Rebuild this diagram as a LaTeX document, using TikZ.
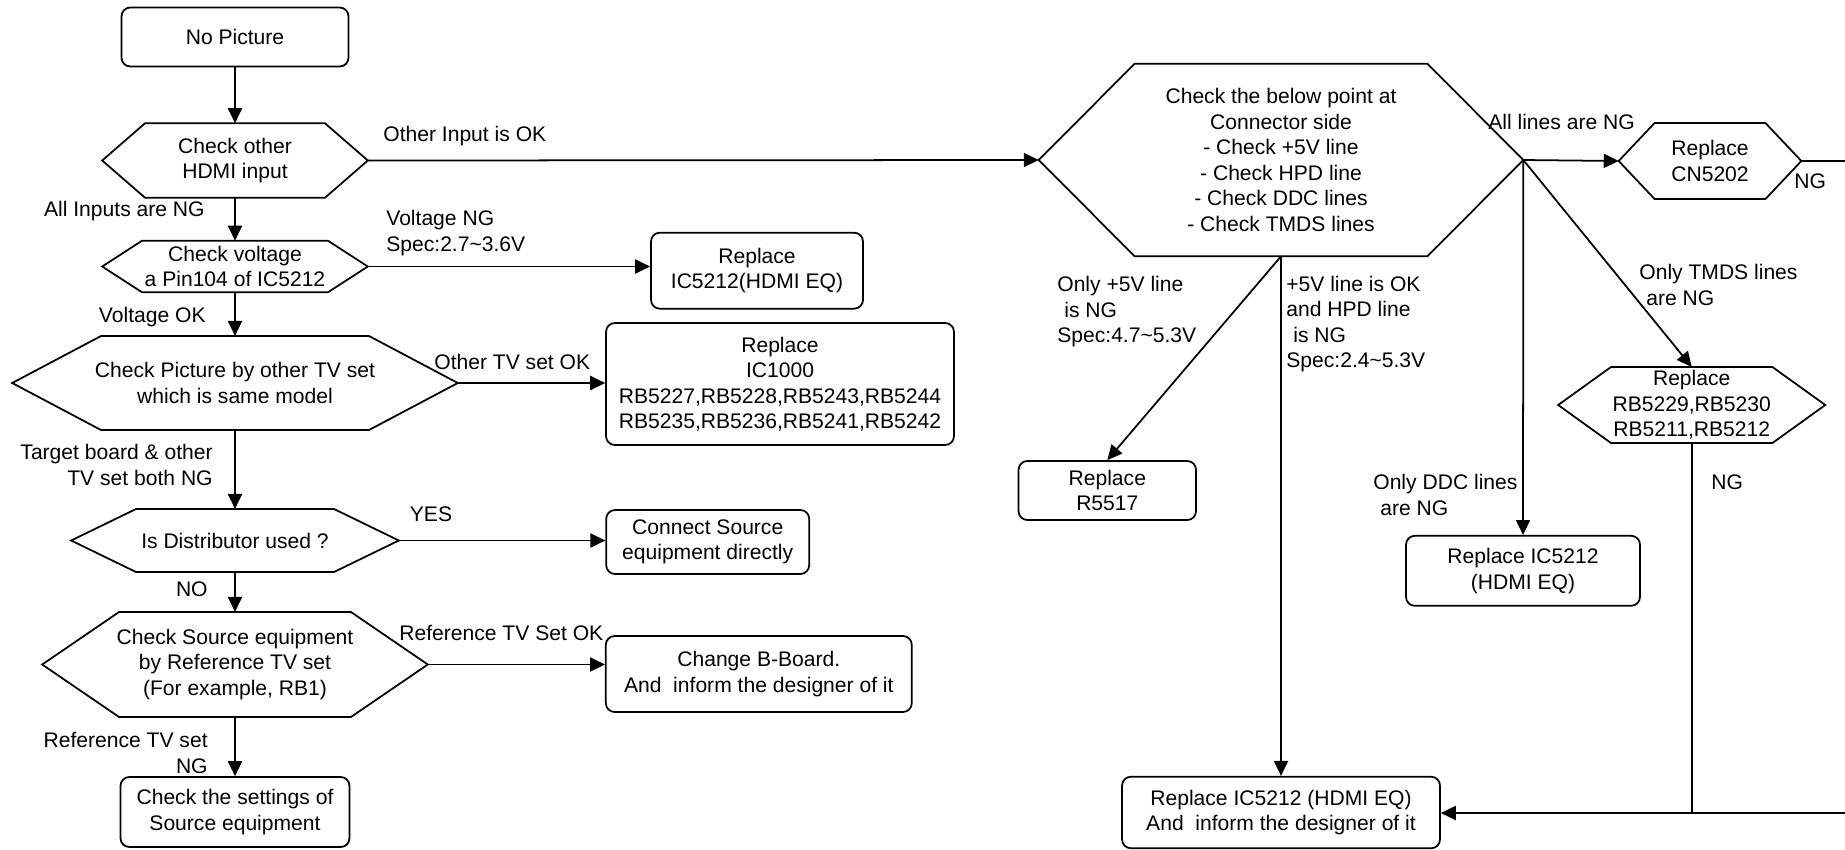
\documentclass[tikz,border=0pt]{standalone}
\usepackage{fontspec}
\setmainfont{Liberation Sans}
\usetikzlibrary{arrows.meta,calc,positioning}
\tikzset{
  box/.style={draw,line width=1pt,rounded corners=5pt,align=center,inner sep=0pt},
  hexa/.style={align=center,inner sep=0pt},
  lbl/.style={inner sep=0pt},
  edg/.style={line width=1pt},
  arr/.style={-{Triangle[length=8.5pt,width=8pt]},line width=1pt},
}
\newcommand{\hexframe}[2]{%
  \draw[edg] (#1.west) -- ([xshift=#2]#1.north west) -- ([xshift=-#2]#1.north east)
    -- (#1.east) -- ([xshift=-#2]#1.south east) -- ([xshift=#2]#1.south west) -- cycle;}

\begin{document}
\begin{tikzpicture}[x=0.02cm,y=-0.02cm,font=\fontsize{12pt}{14.5pt}\selectfont]
  \useasboundingbox (0,0) rectangle (1845,849);
  % left column
  \node[box,minimum width=4.54cm,minimum height=1.18cm] (start) at (235,37) {No Picture};
  \node[hexa,minimum width=5.3cm,minimum height=1.48cm] (hdmi) at (235,160.5) {Check other\\HDMI input};
  \node[hexa,minimum width=5.3cm,minimum height=1.02cm] (volt) at (235,266.5) {Check voltage\\a Pin104 of IC5212};
  \node[hexa,minimum width=8.9cm,minimum height=1.87cm] (other) at (235,383) {Check Picture by other TV set\\which is same model};
  \node[hexa,minimum width=6.54cm,minimum height=1.25cm] (distr) at (235,540.5) {Is Distributor used ?};
  \node[hexa,minimum width=7.7cm,minimum height=2.09cm] (source) at (235,664.5) {Check Source equipment\\by Reference TV set\\(For example, RB1)};
  \node[box,minimum width=4.58cm,minimum height=1.4cm] (settings) at (235,812) {Check the settings of\\Source equipment};
  \hexframe{hdmi}{0.86cm}
  \hexframe{volt}{0.8cm}
  \hexframe{other}{1.78cm}
  \hexframe{distr}{1.3cm}
  \hexframe{source}{1.54cm}
  % what to replace
  \node[box,minimum width=4.24cm,minimum height=1.52cm] (eq) at (757,270.7) {Replace\\IC5212(HDMI EQ)};
  \node[box,minimum width=6.96cm,minimum height=2.44cm] (ic1000) at (780,384) {Replace\\IC1000\\RB5227,RB5228,RB5243,RB5244\\RB5235,RB5236,RB5241,RB5242};
  \node[box,minimum width=4.06cm,minimum height=1.28cm] (direct) at (707.7,542) {Connect Source\\equipment directly};
  \node[box,minimum width=6.12cm,minimum height=1.52cm] (bboard) at (758.8,674) {Change B-Board.\\And\ \ inform the designer of it};
  % connector side
  \node[hexa,minimum width=9.68cm,minimum height=3.84cm] (conn) at (1281,160) {Check the below point at\\Connector side\\- Check +5V line\\- Check HPD line\\- Check DDC lines\\- Check TMDS lines};
  \node[hexa,minimum width=3.64cm,minimum height=1.51cm] (cn) at (1710,161) {Replace\\CN5202};
  \node[hexa,minimum width=5.33cm,minimum height=1.51cm] (rb) at (1691.7,405) {Replace\\RB5229,RB5230\\RB5211,RB5212};
  \node[box,minimum width=3.55cm,minimum height=1.18cm] (r5517) at (1107.3,490.5) {Replace\\R5517};
  \node[box,minimum width=4.68cm,minimum height=1.4cm] (eq2) at (1523,570.8) {Replace IC5212\\(HDMI EQ)};
  \node[box,minimum width=6.36cm,minimum height=1.43cm] (inform) at (1281,812.5) {Replace IC5212 (HDMI EQ)\\And\ \ inform the designer of it};
  \hexframe{conn}{1.92cm}
  \hexframe{cn}{0.72cm}
  \hexframe{rb}{1.06cm}
  \coordinate (cnout) at (1845,161);
  \coordinate (back) at (1845,813);
  % connectors
  \draw[arr] (start) -- (hdmi);
  \draw[arr] (hdmi.east) -- (conn.west);
  \draw[arr] (hdmi) -- (volt);
  \draw[arr] (volt.east) -- (volt.east -| eq.west);
  \draw[arr] (volt) -- (other);
  \draw[arr] (other.east) -- (other.east -| ic1000.west);
  \draw[arr] (other) -- (distr);
  \draw[arr] (distr.east) -- (distr.east -| direct.west);
  \draw[arr] (distr) -- (source);
  \draw[arr] (source.east) -- (source.east -| bboard.west);
  \draw[arr] (source) -- (settings);
  \draw[arr] (conn.east) -- (cn.west);
  \draw[edg] (cn.east) -- (cnout);
  \draw[arr] (conn.east) -- (rb.north);
  \draw[arr] (conn.east) -- (eq2.north);
  \draw[arr] (conn.south) -- (r5517.north);
  \draw[arr] (conn.south) -- (inform.north);
  \draw[edg] (rb.south) -- (rb.south |- back);
  \draw[arr] (back) -- (back -| inform.east);
  % labels
  \node[lbl,anchor=west] (okin) at (383,136) {Other Input is OK};
  \node[lbl,anchor=east] (ngin) at (205,211) {All Inputs are NG};
  \node[lbl,anchor=west,align=left] (ngvolt) at (386,233) {Voltage NG\\Spec:2.7\textasciitilde3.6V};
  \node[lbl,anchor=east] (okvolt) at (206,317) {Voltage OK};
  \node[lbl,anchor=west] (oktv) at (434,362) {Other TV set OK};
  \node[lbl,anchor=east,align=right] (ngtv) at (213,465) {Target board \& other\\TV set both NG};
  \node[lbl] (yes) at (431,514) {YES};
  \node[lbl,anchor=east] (no) at (208,589) {NO};
  \node[lbl,anchor=west] (okref) at (399,633) {Reference TV Set OK};
  \node[lbl,anchor=east,align=right] (ngref) at (208,753) {Reference TV set\\NG};
  \node[lbl,anchor=west] (ngall) at (1488,122) {All lines are NG};
  \node[lbl,anchor=west] (ngcn) at (1794,181) {NG};
  \node[lbl,anchor=west,align=left] (ngtmds) at (1639,285) {Only TMDS lines\\\hspace*{4pt}are NG};
  \node[lbl,anchor=west,align=left] (ngddc) at (1373,495) {Only DDC lines\\\hspace*{4pt}are NG};
  \node[lbl,anchor=west,align=left] (ngfive) at (1057,312) {Only +5V line\\\hspace*{4pt}is NG\\Spec:4.7\textasciitilde5.3V};
  \node[lbl,anchor=west,align=left] (nghpd) at (1286,324) {+5V line is OK\\and HPD line\\\hspace*{4pt}is NG\\Spec:2.4\textasciitilde5.3V};
  \node[lbl,anchor=west] (ngrb) at (1711,482) {NG};
\end{tikzpicture}
\end{document}
